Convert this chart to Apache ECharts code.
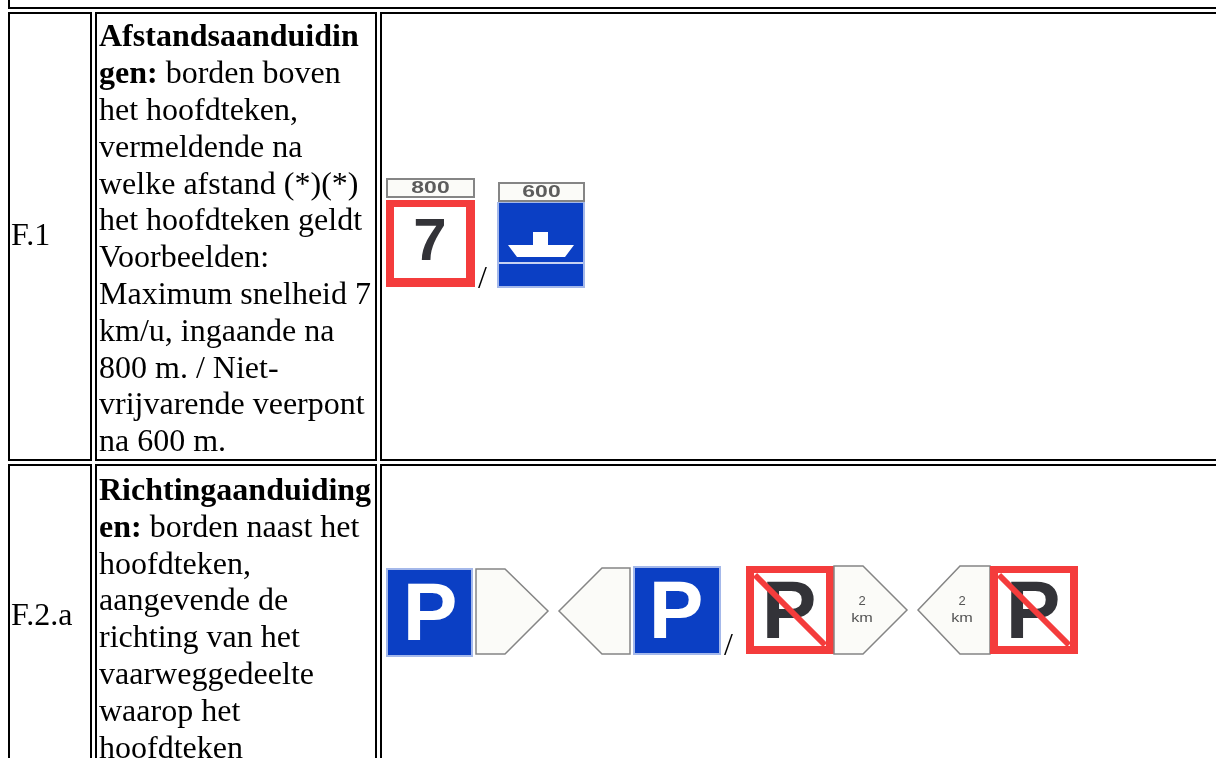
<!DOCTYPE html>
<html><head><meta charset="utf-8">
<style>html,body{margin:0;padding:0;background:#fff;overflow:hidden}#c{width:1216px;height:758px}</style>
<script src="https://cdn.jsdelivr.net/npm/echarts@6/dist/echarts.min.js"></script>
</head><body><div id="c"></div>
<script>
const rowLabels = ['F.1', 'F.2.a'];
const row1Lines = ['{b|Afstandsaanduidin}', '{b|gen:} borden boven', 'het hoofdteken,', 'vermeldende na', 'welke afstand (*)(*)', 'het hoofdteken geldt', 'Voorbeelden:', 'Maximum snelheid 7', 'km/u, ingaande na', '800 m. / Niet-', 'vrijvarende veerpont', 'na 600 m.'];
const row2Lines = ['{b|Richtingaanduiding}', '{b|en:} borden naast het', 'hoofdteken,', 'aangevende de', 'richting van het', 'vaarweggedeelte', 'waarop het', 'hoofdteken'];
const plateTexts = ['800', '600'];
const signTexts = ['7', 'P', '2', 'km', '/'];

const SERIF = '"Liberation Serif"', SANS = '"Liberation Sans"';
const RED = '#f43c3c', BLUE = '#0b3fc4', EDGE = '#a4b8ea', GREY = '#858585', PAPER = '#fbfbf8', INK = '#333338';
const els = [];
const rect = (x, y, w, h, fill, stroke, lw) => els.push({type:'rect', shape:{x,y,width:w,height:h}, style:{fill, stroke:stroke||null, lineWidth:lw||0}, silent:true});
const poly = (points, fill, stroke, lw) => els.push({type:'polygon', shape:{points}, style:{fill, stroke:stroke||null, lineWidth:lw||0, lineJoin:'miter'}, silent:true});
const line = (x1,y1,x2,y2,stroke,lw) => els.push({type:'line', shape:{x1,y1,x2,y2}, style:{stroke, lineWidth:lw}, silent:true});
const text = (t, x, y, font, fill, align, rich, sx) => els.push({type:'text', x, y, scaleX:sx||1, style:{text:t, x:0, y:0, font, fill:fill||'#000', textAlign:align||'left', textVerticalAlign:'middle', rich}, silent:true});

// Table borders
const H = 2, W = 1216, B = 770;
function box(x0, y0, x1, y1) {
  rect(x0, y0, x1-x0, H, '#000'); rect(x0, y1-H, x1-x0, H, '#000');
  rect(x0, y0, H, y1-y0, '#000'); rect(x1-H, y0, H, y1-y0, '#000');
}
rect(8, 0, H, 9, '#000'); rect(8, 7, W-8, H, '#000');
[[12,461],[464,B]].forEach(([a,b]) => { box(8,a,92,b); box(95,a,377,b); box(380,a,W+10,b); });

// Text
const FS = 32, rich = {b:{font:'bold '+FS+'px '+SERIF, fill:'#000'}};
const font = FS+'px '+SERIF;
row1Lines.forEach((t,i) => text(t, 99, 38 + i*36.8, font, '#000', 'left', rich));
row2Lines.forEach((t,i) => text(t, 99, 491.5 + i*36.8, font, '#000', 'left', rich));
text(rowLabels[0], 11, 237, font); text(rowLabels[1], 11, 617, font);

function plate(x, y, w, h, t) {
  rect(x+1, y+1, w-2, h-2, PAPER, GREY, 2);
  text(t, x+w/2, y+h/2+.5, 'bold 17px '+SANS, '#5c5c5c', 'center', null, 1.35);
}
// Sign: 7 with plate
plate(386, 178, 89, 20, plateTexts[0]);
rect(386, 200, 89, 87, RED); rect(394, 207, 72, 71, '#fff');
text(signTexts[0], 430, 243, 'bold 60px '+SANS, INK, 'center');
text(signTexts[4], 478, 280, font);
// Sign: ferry with plate
plate(498, 182, 87, 20, plateTexts[1]);
rect(497, 202, 88, 86, EDGE); rect(499, 203, 84, 83, BLUE);
poly([[508,245],[533,245],[533,232],[548,232],[548,245],[574,245],[565,257],[517,257]], '#fff');
rect(499, 262, 84, 2, '#c6d2f2');

// Blue P pair
rect(386, 568, 87, 89, EDGE); rect(388, 570, 83, 85, BLUE);
text(signTexts[1], 430, 617, 'bold 82px '+SANS, '#fff', 'center');
poly([[476,569],[505,569],[548,611],[505,654],[476,654]], PAPER, GREY, 1.5);
poly([[630,568],[602,568],[559,611],[602,654],[630,654]], PAPER, GREY, 1.5);
rect(633, 566, 88, 89, EDGE); rect(635, 568, 84, 85, BLUE);
text(signTexts[1], 676, 615, 'bold 82px '+SANS, '#fff', 'center');
text(signTexts[4], 724, 647, font);

// Red P pair
function noP(x) {
  rect(x, 566, 88, 88, RED); rect(x+8, 573, 72, 73, '#fff');
  text(signTexts[1], x+43, 615, 'bold 82px '+SANS, INK, 'center');
  line(x+9, 575, x+79, 645, RED, 6);
}
noP(746);
poly([[834,566],[863,566],[907,610],[863,654],[834,654]], PAPER, GREY, 1.5);
text(signTexts[2], 862, 601, '13px '+SANS, '#555', 'center');
text(signTexts[3], 862, 618, '13px '+SANS, '#555', 'center', null, 1.25);
poly([[990,566],[960,566],[918,610],[960,654],[990,654]], PAPER, GREY, 1.5);
text(signTexts[2], 962, 601, '13px '+SANS, '#555', 'center');
text(signTexts[3], 962, 618, '13px '+SANS, '#555', 'center', null, 1.25);
noP(990);

const chart = echarts.init(document.getElementById('c'), null, {renderer:'canvas'});
chart.setOption({backgroundColor:'#fff', animation:false, graphic:{elements:els}});
</script></body></html>
